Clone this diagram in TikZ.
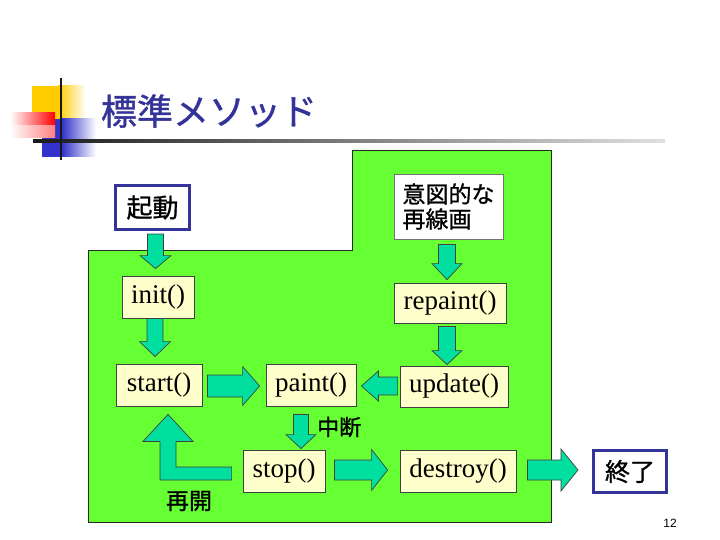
\documentclass[tikz,border=0pt]{standalone}
\usepackage{fontspec}
\setmainfont{Liberation Serif}
\newfontfamily\jpfont[FakeBold=1]{Noto Sans CJK JP}
\newfontfamily\pnfont{Liberation Sans}
\usetikzlibrary{calc}
\definecolor{bggreen}{RGB}{102,255,51}
\definecolor{arrfill}{RGB}{0,222,160}
\definecolor{navyc}{RGB}{51,51,153}
\definecolor{boxfill}{RGB}{255,255,204}
\definecolor{decoyellow}{RGB}{255,204,0}
\definecolor{decoblue}{RGB}{51,51,204}
\tikzset{
  methodbox/.style={draw=black!75, line width=0.8pt, fill=boxfill, inner sep=0pt,
    font=\fontsize{27}{30}\selectfont},
  kanjibox/.style={draw=navyc, line width=3pt, fill=white, inner sep=0pt,
    font=\jpfont\fontsize{26}{28}\selectfont},
  notebox/.style={draw=black!55, line width=0.8pt, fill=white, inner sep=0pt,
    align=left, font=\jpfont\fontsize{23}{25}\selectfont},
  jplabel/.style={inner sep=0pt, font=\jpfont\fontsize{22}{24}\selectfont},
  blockarrow/.style={fill=arrfill, draw=black!75, line width=0.7pt, line join=miter},
}
\newcommand\blockarr[5]{%
  \path[blockarrow] let \p1=#1, \p2=#2,
    \n1={veclen(\x2-\x1,\y2-\y1)}, \n2={atan2(\y2-\y1,\x2-\x1)} in
    [shift={(\p1)}, rotate=\n2]
    (0,#3) -- ({\n1-#5},#3) -- ({\n1-#5},#4) -- (\n1,0) -- ({\n1-#5},-#4)
    -- ({\n1-#5},-#3) -- (0,-#3) -- cycle;}
\begin{document}
\begin{tikzpicture}[x=1pt,y=-1pt]
\useasboundingbox (0,0) rectangle (720,540);
\fill[white] (0,0) rectangle (720,540);
% title decoration
\fill[decoyellow] (32,86) rectangle (58,135);
\shade[left color=decoyellow, right color=white] (58,86) rectangle (86,135);
\fill[decoblue] (42,119) rectangle (62,157);
\shade[left color=decoblue, right color=white] (62,119) rectangle (96,157);
\shade[left color=white, right color=red] (10,113) rectangle (55,138);
\shade[top color=red!0, bottom color=white, opacity=0.5] (10,126) rectangle (55,138);
\shade[left color=black!90, right color=black!12] (33,139.5) rectangle (665,142.5);
\draw[line width=2.5pt, black!90] (61,78) -- (61,160);
\node[inner sep=0pt, text=navyc, font=\jpfont\fontsize{36}{38}\selectfont] (title) at (209,111) {標準メソッド};
% green area
\path[fill=bggreen, draw=black!85, line width=0.8pt]
  (88,250) -- (352,250) -- (352,150) -- (551,150) -- (551,522) -- (88,522) -- cycle;
% nodes
\node[kanjibox, minimum width=74, minimum height=44] (kido) at (152.5,207.5) {起動};
\node[notebox, minimum width=109, minimum height=65] (ito) at (448.5,206.5) {意図的な\\再線画};
\node[methodbox, minimum width=72, minimum height=42] (init) at (158,297) {init()};
\node[methodbox, minimum width=112, minimum height=40] (repaint) at (450,303) {repaint()};
\node[methodbox, minimum width=86, minimum height=42] (start) at (159,385) {start()};
\node[methodbox, minimum width=90, minimum height=42] (paint) at (311,385) {paint()};
\node[methodbox, minimum width=108, minimum height=41] (update) at (454,386.5) {update()};
\node[methodbox, minimum width=82, minimum height=42] (stop) at (284,471) {stop()};
\node[methodbox, minimum width=116, minimum height=42] (destroy) at (458,471) {destroy()};
\node[kanjibox, minimum width=73, minimum height=42, font=\jpfont\fontsize{25}{27}\selectfont] (owari) at (630,471.5) {終了};
% labels
\node[jplabel, anchor=west] (chudan) at (317,427) {中断};
\node[jplabel, font=\jpfont\fontsize{23}{25}\selectfont] (saikai) at (189,501) {再開};
\node[inner sep=0pt, font=\pnfont\fontsize{12}{14}\selectfont] (pageno) at (670,523) {12};
% block arrows
\blockarr{($(kido.south)+(3,3)$)}{($(init.north)+(-2.5,-7)$)}{8}{15.5}{13}
\blockarr{($(init.south)+(-3,0)$)}{($(start.north)+(-4,-7)$)}{8}{15.5}{15}
\blockarr{($(ito.south)+(-1.5,5)$)}{($(repaint.north)+(-3,-3)$)}{8.5}{15}{16}
\blockarr{($(repaint.south)+(-3,3)$)}{($(update.north)+(-7,-1)$)}{8.5}{15}{14}
\blockarr{($(start.east)+(5,1)$)}{($(paint.west)+(-6,1)$)}{11}{19.5}{17}
\blockarr{($(update.west)+(-2,-0.5)$)}{($(paint.east)+(5,1)$)}{9}{15}{17}
\blockarr{($(paint.south)+(-10,8)$)}{($(stop.north)+(17,-1)$)}{7.5}{15}{14}
\blockarr{($(stop.east)+(9,-1)$)}{($(destroy.west)+(-12,-1)$)}{10}{20.5}{16}
\blockarr{($(destroy.east)+(11,-1)$)}{($(owari.west)+(-14,-1.5)$)}{10}{21}{17}
\path[blockarrow] let \p1=($(stop.west)+(-11,2.5)$), \p2=($(start.south)+(9,8)$) in
  (\x1,\y1+6.5pt) -- (\x2+8pt,\y1+6.5pt) -- (\x2+8pt,\y2-27pt) -- (\x2+25pt,\y2-27pt)
  -- (\x2,\y2) -- (\x2-25pt,\y2-27pt) -- (\x2-8pt,\y2-27pt) -- (\x2-8pt,\y1-6.5pt)
  -- (\x1,\y1-6.5pt) -- cycle;
\end{tikzpicture}
\end{document}
